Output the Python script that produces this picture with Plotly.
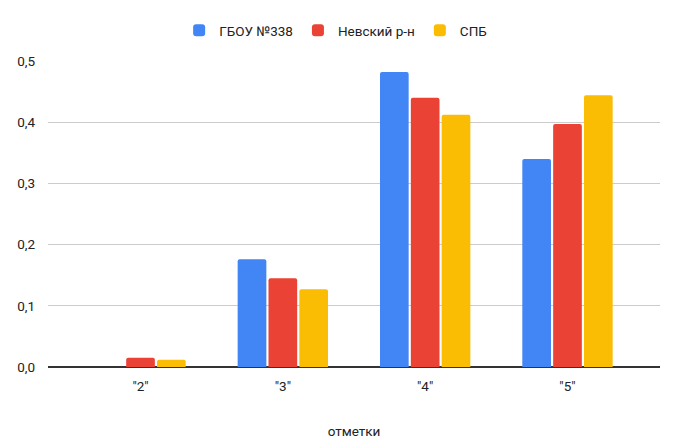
import plotly.graph_objects as go

categories = ['"2"', '"3"', '"4"', '"5"']
school = [0.0, 0.176, 0.482, 0.340]
district = [0.015, 0.145, 0.440, 0.397]
spb = [0.012, 0.127, 0.412, 0.444]
series_names = ["ГБОУ №338", "Невский р-н", "СПБ"]
colors = ["#4285F4", "#EA4335", "#FBBC04"]

fig = go.Figure()
for name, vals, c in zip(series_names, [school, district, spb], colors):
    fig.add_trace(go.Bar(x=categories, y=vals, name=name, marker_color=c,
                         marker_line_width=0))

# the page body has an 8px default margin, so the figure is shifted by 8px
fig.update_layout(
    width=673, height=441,
    barmode="group", bargap=0.35, bargroupgap=0.07,
    barcornerradius=2,
    separators=", ",
    plot_bgcolor="white", paper_bgcolor="white",
    font=dict(family="Roboto, Arial, sans-serif", size=13, color="#222222"),
    margin=dict(l=40, r=21, t=53, b=82, autoexpand=False),
    legend=dict(orientation="h", x=0.47, xanchor="center", y=1 - 7 / 441, yanchor="top",
                yref="container", font=dict(size=13.5, color="#222222"),
                itemwidth=30, traceorder="normal"),
    showlegend=True,
)
fig.update_xaxes(range=[-0.65, 3.65], showgrid=False, ticks="", automargin=False,
                 title=dict(text="отметки", standoff=34, font=dict(size=13.5)),
                 tickfont=dict(size=13.5), ticklabelstandoff=9)
fig.update_yaxes(range=[0, 0.5], dtick=0.1, tickformat=".1f", showgrid=True,
                 gridcolor="#cccccc", gridwidth=1, zeroline=True, automargin=False,
                 zerolinecolor="#333333", zerolinewidth=1.5,
                 ticks="", tickfont=dict(size=13.5), ticklabelstandoff=12)

fig.write_html("out.html")
